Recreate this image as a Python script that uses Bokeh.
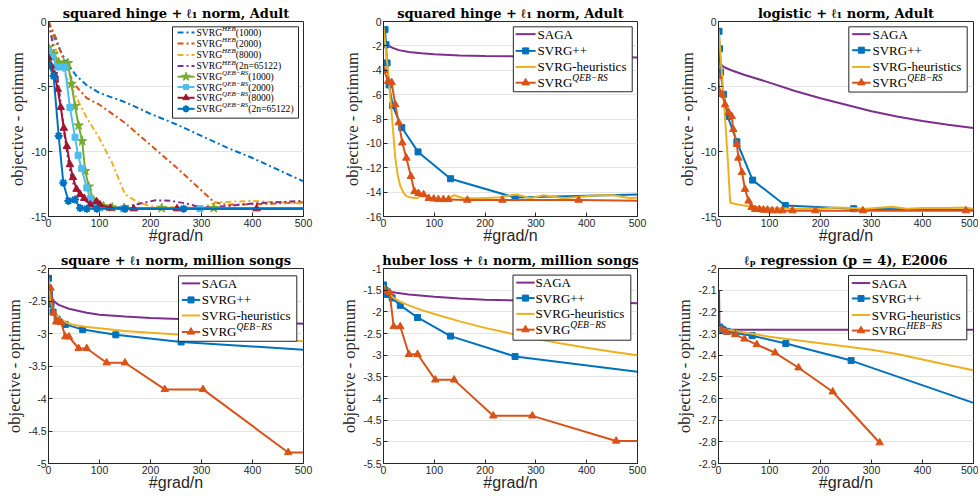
from bokeh.plotting import figure
from bokeh.layouts import row, column
from bokeh.models import Range1d, FixedTicker, NumeralTickFormatter, BoxAnnotation, Label
from bokeh.embed import file_html
from bokeh.resources import INLINE

# ---------------- data ----------------
X_TICKS = [0, 100, 200, 300, 400, 500]

# Panel 1: squared hinge + l1, Adult (HEB / QEB-RS variants)
P1_Y_TICKS = [-15, -10, -5, 0]
P1_HEB1000_X = [0, 10, 25, 40, 55, 75, 100, 150, 200, 250, 300, 350, 400, 450, 500]
P1_HEB1000_Y = [0, -1.1, -2.4, -3.4, -4.2, -4.9, -5.5, -6.2, -7.1, -7.9, -8.8, -9.7, -10.5, -11.4, -12.3]
P1_HEB2000_X = [0, 15, 30, 50, 75, 100, 150, 200, 250, 300, 325, 350, 400, 450, 500]
P1_HEB2000_Y = [0, -1.3, -3.0, -4.8, -5.9, -6.4, -7.8, -9.5, -11.2, -13.0, -13.9, -14.1, -14.05, -14.0, -13.9]
P1_HEB8000_X = [0, 10, 20, 35, 50, 75, 100, 125, 150, 175, 200, 250, 300, 330, 400, 450, 500]
P1_HEB8000_Y = [0, -1.5, -3.0, -4.3, -5.5, -7.4, -9.0, -10.9, -13.3, -13.9, -14.2, -14.3, -14.3, -13.9, -13.8, -13.9, -14.0]
P1_HEB2N_X = [0, 5, 10, 15, 20, 25, 30, 35, 40, 45, 50, 55, 60, 70, 80, 100, 130, 160, 180, 210, 240, 270, 300, 350, 400, 450, 500]
P1_HEB2N_Y = [0, -1.0, -2.2, -3.5, -5.0, -6.6, -8.3, -9.7, -11.0, -12.0, -12.6, -12.9, -13.2, -13.7, -14.0, -14.2, -14.3, -14.2, -14.0, -13.75, -13.8, -14.0, -14.3, -14.2, -14.0, -13.9, -13.8]
P1_QEB1000_X = [0, 10, 20, 30, 38, 45, 52, 59, 66, 72, 79, 89, 98, 108, 125, 148, 222, 324, 500]
P1_QEB1000_Y = [-2.0, -2.5, -3.15, -3.2, -3.2, -4.8, -6.5, -8.0, -9.2, -11.5, -12.7, -13.8, -14.1, -14.2, -14.3, -14.35, -14.35, -14.35, -14.35]
P1_QEB2000_X = [0, 8, 16, 24, 32, 42, 52, 58, 65, 75, 82, 92, 101, 147, 297, 500]
P1_QEB2000_Y = [-2.3, -2.7, -3.5, -3.5, -3.5, -6.6, -8.9, -10.3, -11.3, -12.8, -13.6, -14.1, -14.35, -14.4, -14.4, -14.4]
P1_QEB8000_X = [0, 5, 12, 18, 24, 30, 36, 42, 48, 55, 62, 70, 82, 94, 101, 121, 167, 252, 408, 500]
P1_QEB8000_Y = [-2.8, -3.4, -4.1, -5.2, -6.6, -8.2, -9.6, -11.0, -12.0, -12.9, -13.3, -13.6, -14.1, -13.85, -14.1, -14.35, -14.4, -14.4, -14.4, -14.4]
P1_QEB2N_X = [0, 10, 20, 29, 39, 52, 62, 75, 95, 150, 265, 500]
P1_QEB2N_Y = [-3.3, -4.2, -8.8, -12.4, -13.8, -13.7, -14.35, -14.4, -14.4, -14.4, -14.4, -14.4]

# Panel 2: squared hinge + l1, Adult (methods)
P2_Y_TICKS = [-16, -14, -12, -10, -8, -6, -4, -2, 0]
P2_SAGA_X = [3, 10, 20, 30, 50, 75, 100, 150, 200, 300, 400, 500]
P2_SAGA_Y = [-1.6, -2.0, -2.2, -2.35, -2.5, -2.6, -2.68, -2.78, -2.83, -2.88, -2.9, -2.95]
P2_SVRGPP_X = [3, 5, 7, 11, 18, 36, 68, 132, 259, 500]
P2_SVRGPP_Y = [-0.65, -1.9, -3.4, -5.2, -6.9, -8.7, -10.7, -12.9, -14.45, -14.2]
P2_HEUR_X = [0, 5, 10, 17, 23, 28, 33, 40, 46, 55, 66, 73, 85, 99, 115, 126, 139, 158, 190, 224, 237, 263, 289, 315, 355, 394, 420, 453, 486, 500]
P2_HEUR_Y = [-0.4, -2.5, -4.5, -8.0, -11.1, -12.6, -13.5, -14.1, -14.35, -14.45, -14.5, -14.25, -14.3, -14.6, -14.65, -14.6, -14.25, -14.5, -14.5, -14.45, -14.35, -14.2, -14.5, -14.25, -14.5, -14.35, -14.25, -14.25, -14.5, -14.45]
P2_QEB_X = [1, 9, 16, 23, 30, 37, 45, 54, 61, 69, 79, 89, 99, 108, 118, 128, 165, 234, 384, 500]
P2_QEB_Y = [-4.0, -4.9, -5.0, -6.8, -8.3, -9.95, -11.2, -12.7, -13.95, -14.1, -14.2, -14.5, -14.55, -14.6, -14.6, -14.6, -14.65, -14.65, -14.65, -14.7]

# Panel 3: logistic + l1, Adult
P3_Y_TICKS = [-15, -10, -5, 0]
P3_SAGA_X = [5, 10, 25, 50, 100, 150, 200, 250, 300, 350, 400, 450, 500]
P3_SAGA_Y = [-3.3, -3.5, -3.75, -4.1, -4.7, -5.35, -5.9, -6.4, -6.9, -7.3, -7.65, -7.95, -8.2]
P3_SVRGPP_X = [1, 2, 4, 10, 18, 36, 67, 131, 265, 500]
P3_SVRGPP_Y = [-0.75, -2.1, -3.9, -5.6, -7.3, -9.25, -12.2, -14.15, -14.4, -14.5]
P3_HEUR_X = [0, 3, 8, 13, 18, 23, 40, 69, 100, 150, 200, 230, 260, 290, 340, 370, 400, 450, 480, 500]
P3_HEUR_Y = [-0.6, -2.0, -4.8, -7.5, -10.5, -13.95, -14.1, -14.25, -14.35, -14.4, -14.4, -14.3, -14.35, -14.4, -14.25, -14.4, -14.35, -14.35, -14.3, -14.4]
P3_QEB_X = [0, 1, 7, 13, 20, 26, 29, 36, 39, 46, 52, 59, 65, 72, 80, 88, 96, 105, 115, 125, 145, 190, 283, 485, 500]
P3_QEB_Y = [-4.2, -5.35, -5.6, -6.4, -7.0, -7.3, -8.3, -9.45, -10.5, -11.6, -12.9, -13.8, -14.3, -14.45, -14.45, -14.5, -14.5, -14.55, -14.55, -14.55, -14.55, -14.55, -14.55, -14.55, -14.55]

# Panel 4: square + l1, million songs
P4_Y_TICKS = [-5, -4.5, -4, -3.5, -3, -2.5, -2]
P4_SAGA_X = [2, 5, 10, 20, 40, 75, 100, 150, 200, 300, 400, 500]
P4_SAGA_Y = [-2.3, -2.42, -2.5, -2.56, -2.62, -2.68, -2.71, -2.74, -2.76, -2.79, -2.82, -2.85]
P4_SVRGPP_X = [0, 2, 5, 9, 17, 33, 67, 132, 260, 500]
P4_SVRGPP_Y = [-2.15, -2.4, -2.55, -2.67, -2.78, -2.86, -2.94, -3.02, -3.13, -3.25]
P4_HEUR_X = [0, 3, 6, 10, 20, 35, 50, 75, 100, 150, 200, 300, 400, 500]
P4_HEUR_Y = [-2.15, -2.4, -2.55, -2.65, -2.76, -2.83, -2.87, -2.9, -2.92, -2.96, -2.99, -3.04, -3.08, -3.12]
P4_QEB_X = [4, 10, 15, 20, 25, 33, 40, 59, 75, 114, 150, 228, 303, 470, 500]
P4_QEB_Y = [-2.3, -2.68, -2.82, -2.82, -2.83, -3.05, -3.05, -3.23, -3.23, -3.45, -3.45, -3.86, -3.86, -4.83, -4.83]

# Panel 5: huber loss + l1, million songs
P5_Y_TICKS = [-5.5, -5, -4.5, -4, -3.5, -3, -2.5, -2, -1.5, -1]
P5_SAGA_X = [2, 10, 25, 50, 100, 150, 200, 300, 400, 500]
P5_SAGA_Y = [-1.48, -1.53, -1.56, -1.6, -1.65, -1.69, -1.72, -1.75, -1.77, -1.8]
P5_SVRGPP_X = [0, 3, 8, 17, 33, 67, 132, 259, 500]
P5_SVRGPP_Y = [-1.38, -1.5, -1.6, -1.68, -1.85, -2.13, -2.56, -3.03, -3.38]
P5_HEUR_X = [0, 5, 10, 20, 35, 50, 75, 100, 150, 200, 250, 300, 350, 400, 450, 500]
P5_HEUR_Y = [-1.38, -1.5, -1.58, -1.68, -1.78, -1.85, -1.96, -2.05, -2.22, -2.37, -2.5, -2.62, -2.73, -2.83, -2.92, -3.0]
P5_QEB_X = [2, 12, 20, 33, 50, 67, 102, 139, 216, 293, 458, 500]
P5_QEB_Y = [-1.52, -1.55, -2.34, -2.34, -2.98, -2.98, -3.57, -3.57, -4.4, -4.4, -4.98, -4.98]

# Panel 6: lp regression (p=4), E2006
P6_Y_TICKS = [-2.9, -2.8, -2.7, -2.6, -2.5, -2.4, -2.3, -2.2, -2.1, -2]
P6_SAGA_X = [1, 2, 5, 50, 100, 200, 300, 400, 500]
P6_SAGA_Y = [-2.1, -2.28, -2.283, -2.283, -2.283, -2.283, -2.283, -2.283, -2.283]
P6_SVRGPP_X = [2, 5, 9, 17, 33, 66, 132, 260, 500]
P6_SVRGPP_Y = [-2.27, -2.278, -2.283, -2.29, -2.298, -2.31, -2.346, -2.425, -2.62]
P6_HEUR_X = [0, 10, 25, 50, 100, 150, 200, 250, 300, 350, 400, 450, 500]
P6_HEUR_Y = [-2.275, -2.28, -2.285, -2.295, -2.315, -2.33, -2.345, -2.36, -2.375, -2.395, -2.42, -2.445, -2.47]
P6_HEB_X = [6, 16, 33, 51, 75, 111, 157, 224, 316]
P6_HEB_Y = [-2.282, -2.293, -2.305, -2.325, -2.351, -2.389, -2.458, -2.569, -2.804]

TITLES = ["squared hinge + \u2113\u2081 norm, Adult", "squared hinge + \u2113\u2081 norm, Adult",
          "logistic + \u2113\u2081 norm, Adult", "square + \u2113\u2081 norm, million songs",
          "huber loss + \u2113\u2081 norm, million songs", "\u2113\u209a regression (p = 4), E2006"]
X_LABEL = "#grad/n"
Y_LABEL = "objective - optimum"

# ---------------- style ----------------
BLUE = "#0072BD"; ORANGE = "#D95319"; YELLOW = "#EDB120"; PURPLE = "#7E2F8E"
GREEN = "#77AC30"; CYAN = "#4DBEEE"; DRED = "#A2142F"
AX = "#262626"
DASHDOT = "6 3 2 3"
SERIF = "Liberation Serif"; SANS = "Liberation Sans"; TSERIF = "DejaVu Serif"

TW = {'S': .556, 'V': .722, 'R': .667, 'G': .722, 'A': .722, '+': .564, '-': .333, 'h': .5, 'e': .444,
      'u': .5, 'r': .333, 'i': .278, 's': .389, 't': .278, 'c': .444, '(': .333, ')': .333, 'n': .5,
      '=': .564, ' ': .25}
TWI = {'H': .722, 'E': .611, 'B': .611, 'Q': .722, 'R': .611, 'S': .5, ' ': .25, '\u2212': .675}


def tw(s, size, table):
    return sum(table.get(c, 0.5) for c in s) * size


def make_fig(w, h, bl, br, bt, bb, ylo, yhi, yticks, title):
    p = figure(width=w, height=h, x_range=Range1d(0, 500), y_range=Range1d(ylo, yhi),
               output_backend="svg", toolbar_location=None,
               min_border_left=bl, min_border_right=br, min_border_top=bt, min_border_bottom=bb)
    p.title.text = title
    p.title.align = "center"
    p.title.text_font = TSERIF
    p.title.text_font_style = "bold"
    p.title.text_font_size = "13px"
    p.title.text_color = "black"
    p.title.standoff = 2
    p.title.offset = 0
    for ax in (p.xaxis[0], p.yaxis[0]):
        ax.major_tick_in = 4
        ax.major_tick_out = 0
        ax.minor_tick_line_color = None
        ax.axis_line_color = AX
        ax.major_tick_line_color = AX
        ax.major_label_text_font = SANS
        ax.major_label_text_font_size = "10.5px"
        ax.major_label_text_color = AX
        ax.major_label_standoff = 2
        ax.axis_label_text_font_style = "normal"
        ax.axis_label_text_color = AX
    p.xaxis[0].axis_label_standoff = -3
    p.yaxis[0].axis_label_standoff = 1
    p.xaxis[0].ticker = FixedTicker(ticks=X_TICKS)
    p.yaxis[0].ticker = FixedTicker(ticks=yticks)
    p.yaxis[0].formatter = NumeralTickFormatter(format="0.[0]")
    p.xaxis[0].axis_label = X_LABEL
    p.xaxis[0].axis_label_text_font = SANS
    p.xaxis[0].axis_label_text_font_size = "16px"
    p.yaxis[0].axis_label = Y_LABEL
    p.yaxis[0].axis_label_text_font = SERIF
    p.yaxis[0].axis_label_text_font_size = "16.5px"
    p.xgrid.grid_line_color = None
    p.ygrid.grid_line_color = "#e4e4e4"
    p.ygrid.ticker = FixedTicker(ticks=yticks)
    p.outline_line_color = AX
    p.outline_line_alpha = 1
    p.background_fill_color = "white"
    return p


def series(p, xs, ys, color, dash=None, marker=None):
    kw = dict(line_color=color, line_width=2)
    if dash:
        kw["line_dash"] = dash
    p.line(xs, ys, **kw)
    if marker:
        mx = [x for x in xs if x < 500]
        my = [y for x, y in zip(xs, ys) if x < 500]
        p.scatter(mx, my, marker=marker[0], size=marker[1], fill_color=color,
                  line_color=color, line_width=marker[2])


def add_legend(p, ylo, yhi, ref_frame, box, rows, samp, tx, entries, fs, sfs):
    fx0, fx1, fy0, fy1 = ref_frame

    def X(px):
        return (px - fx0) / (fx1 - fx0) * 500

    def Y(py):
        return yhi - (py - fy0) / (fy1 - fy0) * (yhi - ylo)

    p.add_layout(BoxAnnotation(left=X(box[0]), right=X(box[1]), top=Y(box[2]), bottom=Y(box[3]),
                               fill_color="white", fill_alpha=1.0, line_color=AX, line_width=1,
                               line_alpha=1.0))
    for (color, dash, marker, main, sup, suffix), ry in zip(entries, rows):
        y = Y(ry)
        kw = dict(line_color=color, line_width=2)
        if dash:
            kw["line_dash"] = dash
        r = p.line([X(samp[0]), X(samp[1])], [y, y], **kw)
        r.level = "overlay"
        if marker:
            m = p.scatter([X((samp[0] + samp[1]) / 2)], [y], marker=marker[0], size=marker[1],
                          fill_color=color, line_color=color, line_width=marker[2])
            m.level = "overlay"
        p.add_layout(Label(x=X(tx), y=y, text=main, text_font=SERIF, text_font_size=f"{fs}px",
                           text_baseline="middle", text_color="black"))
        off = tw(main, fs, TW)
        if sup:
            p.add_layout(Label(x=X(tx), y=y, text=sup, text_font=SERIF, text_font_size=f"{sfs}px",
                               text_font_style="italic", text_baseline="middle",
                               x_offset=off, y_offset=0.36 * fs, text_color="black"))
            off += tw(sup, sfs, TWI)
        if suffix:
            p.add_layout(Label(x=X(tx), y=y, text=suffix, text_font=SERIF, text_font_size=f"{fs}px",
                               text_baseline="middle", x_offset=off, text_color="black"))


SQ = ("square", 6, 1)
TRI = ("triangle", 7.5, 1)
STAR = ("star", 10, 1)
AST = ("asterisk", 8, 2)
QEB = "QEB\u2212RS"

# columns: (width, min_border_left, min_border_right)
COLS = [(329, 48, 26), (330, 54, 22), (319, 59, 5)]
ROW_H = 247
BT, BB = 21, 31

# ---- panel 1
p1 = make_fig(COLS[0][0], ROW_H, COLS[0][1], COLS[0][2], BT, BB, -15, 0, P1_Y_TICKS, TITLES[0])
series(p1, P1_HEB1000_X, P1_HEB1000_Y, BLUE, DASHDOT)
series(p1, P1_HEB2000_X, P1_HEB2000_Y, ORANGE, DASHDOT)
series(p1, P1_HEB8000_X, P1_HEB8000_Y, YELLOW, DASHDOT)
series(p1, P1_HEB2N_X, P1_HEB2N_Y, PURPLE, DASHDOT)
series(p1, P1_QEB1000_X, P1_QEB1000_Y, GREEN, None, STAR)
series(p1, P1_QEB2000_X, P1_QEB2000_Y, CYAN, None, SQ)
series(p1, P1_QEB8000_X, P1_QEB8000_Y, DRED, None, TRI)
series(p1, P1_QEB2N_X, P1_QEB2N_Y, BLUE, None, AST)
add_legend(p1, -15, 0, (48, 303, 20.7, 215), (172, 298, 26, 117),
           [31.7, 42.7, 54, 65, 75.7, 86, 96.7, 107.7], (177, 194), 196,
           [(BLUE, DASHDOT, None, "SVRG", "HEB", "(1000)"),
            (ORANGE, DASHDOT, None, "SVRG", "HEB", "(2000)"),
            (YELLOW, DASHDOT, None, "SVRG", "HEB", "(8000)"),
            (PURPLE, DASHDOT, None, "SVRG", "HEB", "(2n=65122)"),
            (GREEN, None, ("star", 9, 1), "SVRG", QEB, "(1000)"),
            (CYAN, None, ("square", 5, 1), "SVRG", QEB, "(2000)"),
            (DRED, None, ("triangle", 6.5, 1), "SVRG", QEB, "(8000)"),
            (BLUE, None, ("asterisk", 7, 2), "SVRG", QEB, "(2n=65122)")],
           9.6, 7)

STD_ENTRIES = [(PURPLE, None, None, "SAGA", None, None),
               (BLUE, None, SQ, "SVRG++", None, None),
               (YELLOW, None, None, "SVRG-heuristics", None, None),
               (ORANGE, None, TRI, "SVRG", QEB, None)]

# ---- panel 2
p2 = make_fig(COLS[1][0], ROW_H, COLS[1][1], COLS[1][2], BT, BB, -16, 0, P2_Y_TICKS, TITLES[1])
series(p2, P2_SAGA_X, P2_SAGA_Y, PURPLE)
series(p2, P2_SVRGPP_X, P2_SVRGPP_Y, BLUE, None, SQ)
series(p2, P2_HEUR_X, P2_HEUR_Y, YELLOW)
series(p2, P2_QEB_X, P2_QEB_Y, ORANGE, None, TRI)
add_legend(p2, -16, 0, (382.7, 637, 20.7, 215), (512.7, 631.7, 26, 90.7),
           [33.3, 50, 66, 81.7], (515, 535), 537, STD_ENTRIES, 13, 9.5)

# ---- panel 3
p3 = make_fig(COLS[2][0], ROW_H, COLS[2][1], COLS[2][2], BT, BB, -15, 0, P3_Y_TICKS, TITLES[2])
series(p3, P3_SAGA_X, P3_SAGA_Y, PURPLE)
series(p3, P3_SVRGPP_X, P3_SVRGPP_Y, BLUE, None, SQ)
series(p3, P3_HEUR_X, P3_HEUR_Y, YELLOW)
series(p3, P3_QEB_X, P3_QEB_Y, ORANGE, None, TRI)
add_legend(p3, -15, 0, (718, 973, 20.7, 215), (848.3, 966.7, 26, 91),
           [33.3, 49.3, 66, 81.7], (851.7, 870), 872, STD_ENTRIES, 13, 9.5)

# ---- panel 4
p4 = make_fig(COLS[0][0], ROW_H, COLS[0][1], COLS[0][2], BT, BB, -5, -2, P4_Y_TICKS, TITLES[3])
series(p4, P4_SAGA_X, P4_SAGA_Y, PURPLE)
series(p4, P4_SVRGPP_X, P4_SVRGPP_Y, BLUE, None, SQ)
series(p4, P4_HEUR_X, P4_HEUR_Y, YELLOW)
series(p4, P4_QEB_X, P4_QEB_Y, ORANGE, None, TRI)
add_legend(p4, -5, -2, (45, 300, 268.3, 465), (175, 293.3, 275.7, 341.7),
           [283.3, 300, 315.7, 332.3], (178.3, 196.7), 198.3, STD_ENTRIES, 13, 9.5)

# ---- panel 5
p5 = make_fig(COLS[1][0], ROW_H, COLS[1][1], COLS[1][2], BT, BB, -5.5, -1, P5_Y_TICKS, TITLES[4])
series(p5, P5_SAGA_X, P5_SAGA_Y, PURPLE)
series(p5, P5_SVRGPP_X, P5_SVRGPP_Y, BLUE, None, SQ)
series(p5, P5_HEUR_X, P5_HEUR_Y, YELLOW)
series(p5, P5_QEB_X, P5_QEB_Y, ORANGE, None, TRI)
add_legend(p5, -5.5, -1, (380, 635, 269, 466.7), (510, 628.3, 275.7, 341.7),
           [283.3, 299, 315, 331], (513.3, 531.7), 532.7, STD_ENTRIES, 13, 9.5)

# ---- panel 6
p6 = make_fig(COLS[2][0], ROW_H, COLS[2][1], COLS[2][2], BT, BB, -2.9, -2, P6_Y_TICKS, TITLES[5])
series(p6, P6_SAGA_X, P6_SAGA_Y, PURPLE)
series(p6, P6_SVRGPP_X, P6_SVRGPP_Y, BLUE, None, SQ)
series(p6, P6_HEUR_X, P6_HEUR_Y, YELLOW)
series(p6, P6_HEB_X, P6_HEB_Y, ORANGE, None, TRI)
add_legend(p6, -2.9, -2, (715, 970, 268, 465), (845, 963.3, 275, 340),
           [282.7, 298.3, 315, 330.7], (848.3, 866.7), 868.3,
           STD_ENTRIES[:3] + [(ORANGE, None, TRI, "SVRG", "HEB\u2212RS", None)], 13, 9.5)

layout = column(row(p1, p2, p3), row(p4, p5, p6))
open("out.html", "w").write(file_html(layout, INLINE))
